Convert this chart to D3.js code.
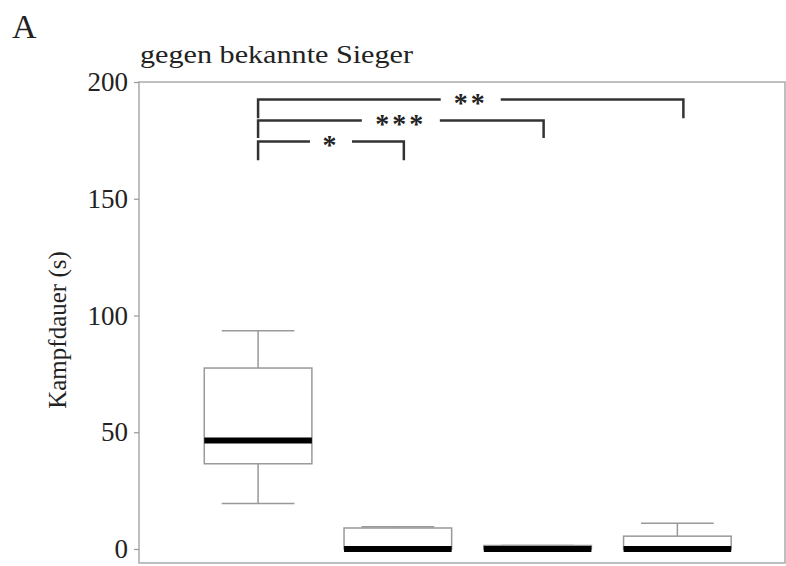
<!DOCTYPE html>
<html>
<head>
<meta charset="utf-8">
<script src="https://cdnjs.cloudflare.com/ajax/libs/d3/7.8.5/d3.min.js"></script>
<style>
  html, body { margin: 0; padding: 0; background: #fff; }
  svg { display: block; }
  text { font-family: "Liberation Serif", "DejaVu Serif", serif; fill: #222; }
</style>
</head>
<body>
<svg id="chart" width="786" height="566"></svg>
<script>
// Fight duration (s) per group, five-number summaries
const groups = ["1", "2", "3", "4"];
const whiskerLow  = [19.5, 0, 0, 0];
const q1          = [36.5, 0, 0, 0];
const median      = [46.5, 0, 0, 0];
const q3          = [77.5, 9, 1.5, 5.5];
const whiskerHigh = [93.5, 9.5, 1.5, 11];

// Significance brackets: from group index, to group index, label
const bracketFrom  = [0, 0, 0];
const bracketTo    = [3, 2, 1];
const bracketLabel = ["**", "***", "*"];
const bracketLevel = [192.5, 183.5, 174.5];
const bracketDrop  = [184.5, 176, 166.5];

const yTicks = [0, 50, 100, 150, 200];
const panelLetter = "A";
const panelTitle = "gegen bekannte Sieger";
const yLabel = "Kampfdauer (s)";

const svg = d3.select("#chart");
const plotLeft = 139, plotRight = 785, plotTop = 82, plotBottom = 563;

const y = d3.scaleLinear().domain([0, 200]).range([549, 82]);
const x = d3.scaleLinear().domain([0.148, 4.77]).range([plotLeft, plotRight]);
const halfW = 0.385;
const capW = 0.26;

// Plot frame
svg.append("rect")
  .attr("x", plotLeft).attr("y", plotTop)
  .attr("width", plotRight - plotLeft).attr("height", plotBottom - plotTop)
  .attr("fill", "none").attr("stroke", "#aaa").attr("stroke-width", 1.5);

// Y axis
const yAxis = d3.axisLeft(y).tickValues(yTicks).tickSize(5).tickPadding(6);
const ga = svg.append("g").attr("transform", `translate(${plotLeft},0)`).call(yAxis);
ga.select(".domain").remove();
ga.selectAll(".tick line").attr("stroke", "#999").attr("stroke-width", 1.2);
ga.selectAll(".tick text")
  .attr("font-size", 27)
  .attr("fill", "#222")
  .style("font-family", "'Liberation Serif', serif");

// Boxes
const bx = svg.append("g");
groups.forEach((g, i) => {
  const cx = x(i + 1);
  const grey = "#999";
  if (whiskerHigh[i] > q3[i]) {
    bx.append("line").attr("x1", cx).attr("x2", cx)
      .attr("y1", y(q3[i])).attr("y2", y(whiskerHigh[i]))
      .attr("stroke", grey).attr("stroke-width", 1.5);
  }
  if (whiskerLow[i] < q1[i]) {
    bx.append("line").attr("x1", cx).attr("x2", cx)
      .attr("y1", y(q1[i])).attr("y2", y(whiskerLow[i]))
      .attr("stroke", grey).attr("stroke-width", 1.5);
  }
  [whiskerHigh[i], whiskerLow[i]].forEach(v => {
    bx.append("line")
      .attr("x1", x(i + 1 - capW)).attr("x2", x(i + 1 + capW))
      .attr("y1", y(v)).attr("y2", y(v))
      .attr("stroke", grey).attr("stroke-width", 1.5);
  });
  bx.append("rect")
    .attr("x", x(i + 1 - halfW)).attr("width", x(i + 1 + halfW) - x(i + 1 - halfW))
    .attr("y", y(q3[i])).attr("height", y(q1[i]) - y(q3[i]))
    .attr("fill", "#fff").attr("stroke", grey).attr("stroke-width", 1.5);
  bx.append("line")
    .attr("x1", x(i + 1 - halfW)).attr("x2", x(i + 1 + halfW))
    .attr("y1", y(median[i])).attr("y2", y(median[i]))
    .attr("stroke", "#000").attr("stroke-width", 6);
});

// Significance brackets
const br = svg.append("g");
bracketLabel.forEach((lab, k) => {
  const x1 = x(bracketFrom[k] + 1), x2 = x(bracketTo[k] + 1) + 6;
  const yl = y(bracketLevel[k]);
  const mid = (x1 + x2) / 2;
  const gap = lab.length * 9 + 12;
  const stroke = "#333";
  br.append("path")
    .attr("d", `M${x1},${y(bracketDrop[k])}V${yl}H${mid - gap}`)
    .attr("fill", "none").attr("stroke", stroke).attr("stroke-width", 2.5);
  br.append("path")
    .attr("d", `M${mid + gap},${yl}H${x2}V${y(bracketDrop[k])}`)
    .attr("fill", "none").attr("stroke", stroke).attr("stroke-width", 2.5);
  br.append("text")
    .attr("x", mid).attr("y", yl + 12)
    .attr("text-anchor", "middle")
    .attr("font-size", 28)
    .attr("font-weight", "bold")
    .attr("letter-spacing", 3)
    .attr("fill", "#333")
    .text(lab);
});

// Labels
svg.append("text").attr("x", 12).attr("y", 38).attr("font-size", 34).text(panelLetter);
svg.append("text").attr("x", 140).attr("y", 63).attr("font-size", 26)
  .attr("textLength", 273).attr("lengthAdjust", "spacingAndGlyphs")
  .text(panelTitle);
svg.append("text")
  .attr("transform", `translate(66,330) rotate(-90)`)
  .attr("text-anchor", "middle")
  .attr("font-size", 25)
  .text(yLabel);
</script>
</body>
</html>
